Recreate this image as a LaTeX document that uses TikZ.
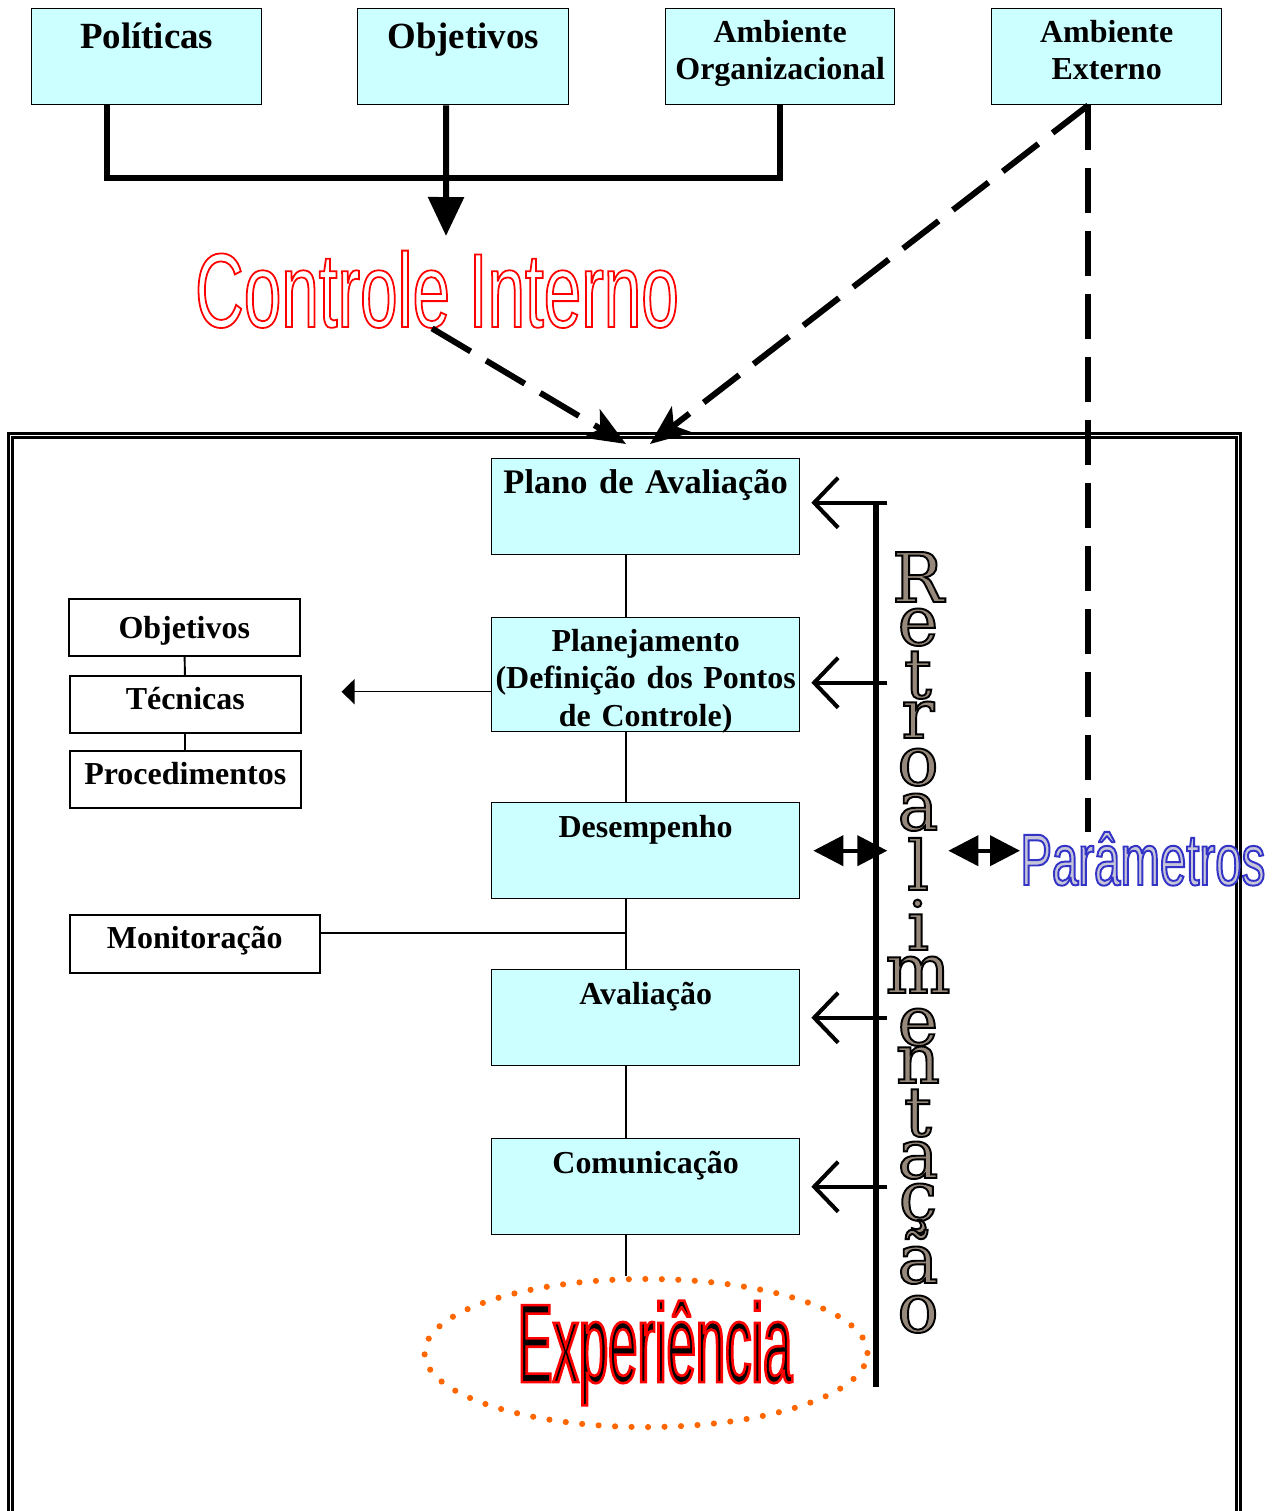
\documentclass[tikz,border=0pt]{standalone}
\usepackage{fontspec}
\setmainfont{Liberation Serif}
\newfontfamily\estreita[FakeStretch=0.64]{Liberation Sans}
\newfontfamily\estreitaP[FakeStretch=0.65]{Liberation Sans}
\newfontfamily\estreitaE[FakeStretch=0.47]{Liberation Sans}
\newfontfamily\serifa{DejaVu Serif}
\usetikzlibrary{arrows.meta,calc,shapes.geometric}

\definecolor{ciano}{RGB}{204,255,255}
\definecolor{laranja}{RGB}{255,102,0}
\definecolor{marmore}{RGB}{150,136,122}
\definecolor{lilas}{RGB}{198,198,216}

% texto so com contorno (modo de renderizacao do pdf)
\newcommand\contorno[2]{\special{pdf:literal direct #1}#2\special{pdf:literal direct 0 Tr}}

\begin{document}
\begin{tikzpicture}[x=0.02cm, y=-0.02cm,
  caixa/.style={draw, fill=ciano, line width=0.8pt, inner sep=0pt, align=center,
    font=\bfseries\fontsize{18.2}{21.2}\selectfont, text height=0.7cm, text depth=1.22cm, anchor=north west},
  branca/.style={draw, fill=white, line width=0.9pt, inner sep=0pt, align=center,
    font=\bfseries\fontsize{18.2}{21.2}\selectfont, text height=0.68cm, text depth=0.46cm, anchor=north west},
  grossa/.style={line width=3.4pt},
  tracejada/.style={line width=3.4pt, dash pattern=on 0.9cm off 0.36cm},
  fina/.style={line width=1.1pt},
  retorno/.style={line width=2.3pt, -{Straight Barb[length=0.48cm, width=1cm]}},
  dupla/.style={line width=2.3pt, {Triangle[length=0.6cm,width=0.6cm]}-{Triangle[length=0.6cm,width=0.6cm]}},
  letra/.style={font=\serifa\fontsize{39}{39}\selectfont, inner sep=0pt, anchor=base}
]
\useasboundingbox (0,0) rectangle (1281,1511);

% moldura dupla
\draw[double, double distance=1.1pt, line width=1.4pt] (10.5,1530) -- (10.5,435.5) -- (1238.5,435.5) -- (1238.5,1530);

% caixas de cima
\node[caixa, text width=4.6cm, text height=0.8cm, text depth=1.12cm, font=\bfseries\fontsize{21}{25}\selectfont] (pol) at (31,8) {Políticas};
\node[caixa, text width=4.22cm, text height=0.8cm, text depth=1.12cm, font=\bfseries\fontsize{21}{25}\selectfont] (obj) at (357,8) {Objetivos};
\node[caixa, text width=4.58cm, text height=0.68cm, text depth=1.24cm] (org) at (665,8) {Ambiente\\Organizacional};
\node[caixa, text width=4.6cm, text height=0.68cm, text depth=1.24cm] (ext) at (991,8) {Ambiente\\Externo};

\node[inner sep=0pt, anchor=base, font=\estreita\fontsize{60}{60}\selectfont] (ci) at (437,327)
  {\color{red}\contorno{1 Tr 1 0 0 RG 1 w}{Controle Interno}};

\coordinate (polP) at ($(pol.south west)!0.33!(pol.south east)$);
\coordinate (objP) at ($(obj.south west)!0.42!(obj.south east)$);
\coordinate (extP) at ($(ext.south west)!0.42!(ext.south east)$);
\coordinate (juncao) at (446,178);
\coordinate (ciseta) at (446,236);
\draw[grossa] (polP) |- (juncao) -| (org.south);
\draw[grossa, -{Triangle[length=0.78cm, width=0.7cm]}] (objP) -- (ciseta);

% caixas do processo
\node[caixa, text width=6.16cm, font=\bfseries\fontsize{19.6}{23}\selectfont] (plano) at (491,458) {Plano de Avaliação};
\node[caixa, text width=6.16cm, text height=0.68cm, text depth=1.6cm] (planej) at (491,617)
  {Planejamento\\(Definição dos Pontos\\de Controle)};
\node[caixa, text width=6.16cm] (desemp) at (491,802) {Desempenho};
\node[caixa, text width=6.16cm] (aval) at (491,969) {Avaliação};
\node[caixa, text width=6.16cm] (comun) at (491,1138) {Comunicação};

\node[branca, text width=4.62cm, text height=0.8cm, text depth=0.34cm] (obj2) at (68,598) {Objetivos};
\node[branca, text width=4.62cm] (tec) at (69,675) {Técnicas};
\node[branca, text width=4.62cm] (proc) at (69,750) {Procedimentos};
\node[branca, text width=5cm, text depth=0.48cm] (mon) at (69,914) {Monitoração};

\node[ellipse, draw=laranja, line width=3.5pt, dash pattern=on 0pt off 0.33cm, line cap=round,
  minimum width=8.86cm, minimum height=2.66cm, inner sep=0pt,
  font=\estreitaE\fontsize{63.7}{64}\selectfont] (exp) at (646,1353)
  {\hspace*{0.36cm}\color{black}\contorno{2 Tr 1 0 0 RG 1.5 w}{Experiência}};

\node[inner sep=0pt, anchor=base west, font=\estreitaP\fontsize{41.5}{42}\selectfont] (par) at (1020,885)
  {\color{lilas}\contorno{2 Tr 0.2 0.2 0.78 RG 1.1 w}{Parâmetros}};

% setas tracejadas
\coordinate (alvoCI) at (626,444);
\coordinate (alvoAE) at (650,444);
\draw[tracejada, -{Stealth[length=0.8cm, width=0.65cm, inset=0.2cm]}] ([xshift=-0.1cm]ci.south) -- (alvoCI);
\draw[tracejada, -{Stealth[length=0.8cm, width=0.65cm, inset=0.2cm]}] (extP) -- (alvoAE);
\draw[tracejada] (extP) -- (extP |- par.north);

% ligacoes
\foreach \a/\b in {plano/planej, planej/desemp, desemp/aval, aval/comun}
  \draw[fina] ([xshift=-0.4cm]\a.south) -- ([xshift=-0.4cm]\b.north);
\coordinate (cs) at ([xshift=-0.4cm]comun.south);
\draw[fina] (cs) -- (cs |- exp.north);
\coordinate (mx) at ([yshift=0.22cm]mon.east);
\draw[fina] (mx) -- (mx -| cs);
\draw[fina] (obj2) -- (tec);
\draw[fina] (tec) -- (proc);
\coordinate (pw) at ([yshift=-0.34cm]planej.west);
\draw[line width=0.9pt, -{Triangle[length=0.26cm,width=0.5cm]}, shorten >=0.8cm] (pw) -- (pw -| tec.east);

% retroalimentacao
\coordinate (rtopo) at (876,502);
\coordinate (rbase) at (876,1387);
\draw[line width=3pt] (rtopo) -- (rbase);
\foreach \c/\s in {plano/0.08, planej/-0.16, aval/0, comun/0}
  \draw[retorno] ([yshift=\s cm, xshift=1.74cm]\c.east) -- ([yshift=\s cm, xshift=0.22cm]\c.east);
\draw[dupla] ([xshift=0.26cm]desemp.east) -- ([xshift=1.74cm]desemp.east);
\draw[dupla] ([xshift=2.96cm]desemp.east) -- (par.west |- desemp.east);

\foreach \l/\y [count=\i from 0] in {R/602, e/645, t/698, r/738, o/785, a/830, l/890, i/950,
    m/993, e/1045, n/1083, t/1136, a/1178, ç/1220, ã/1283, o/1332}
  \node[letra] (retro\i) at (918,\y) {\color{marmore}\contorno{2 Tr 0 0 0 RG 1.1 w}{\l}};
\end{tikzpicture}
\end{document}
